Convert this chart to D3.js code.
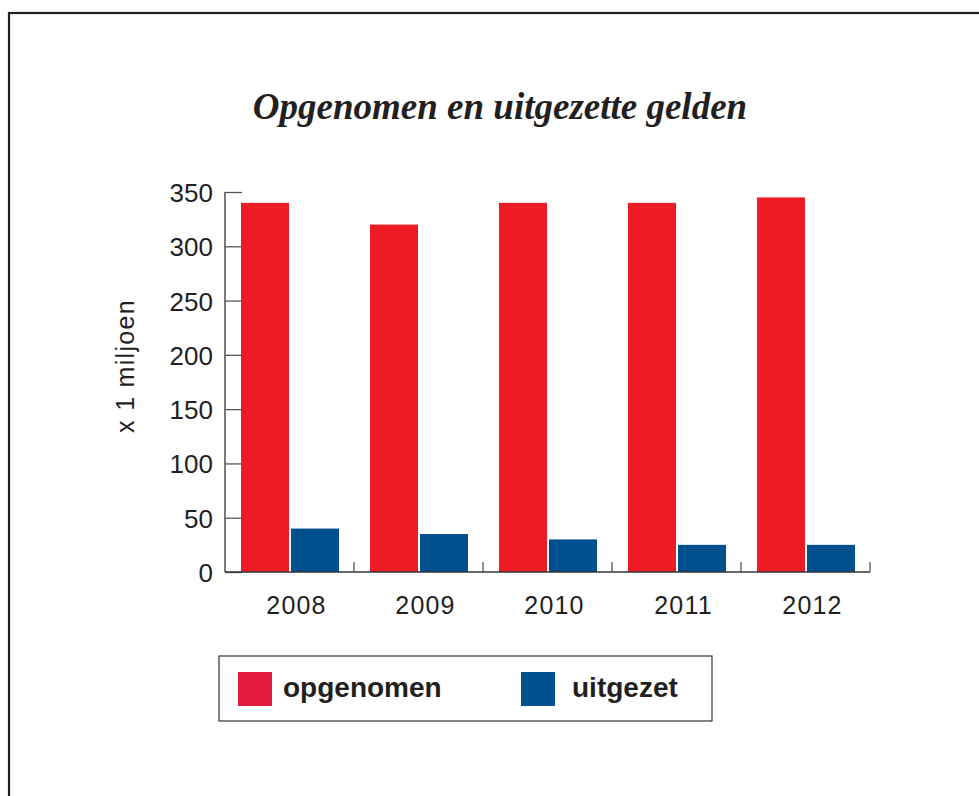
<!DOCTYPE html>
<html>
<head>
<meta charset="utf-8">
<script src="https://cdn.jsdelivr.net/npm/d3@7"></script>
<style>
  body { margin: 0; background: #fff; }
  svg text { fill: #231f20; }
</style>
</head>
<body>
<div id="chart"></div>
<script>
// data
var years = ["2008", "2009", "2010", "2011", "2012"];
var opgenomen = [340, 320, 340, 340, 345];
var uitgezet = [40, 35, 30, 25, 25];
var yTicks = [0, 50, 100, 150, 200, 250, 300, 350];
var seriesNames = ["opgenomen", "uitgezet"];

var W = 979, H = 796;
var barRed = "#ed1c24", barBlue = "#00508e";
var legRed = "#e31940";

var svg = d3.select("#chart").append("svg")
	.attr("width", W)
	.attr("height", H);

// outer frame, runs off right and bottom
svg.append("rect")
	.attr("x", 9).attr("y", 13)
	.attr("width", 1000).attr("height", 900)
	.attr("fill", "none")
	.attr("stroke", "#231f20")
	.attr("stroke-width", 2.2);

// title
svg.append("text")
	.attr("x", 500).attr("y", 119)
	.attr("text-anchor", "middle")
	.style("font-family", "'Liberation Serif', 'DejaVu Serif', serif")
	.style("font-weight", "bold")
	.style("font-style", "italic")
	.style("font-size", "37px")
	.text("Opgenomen en uitgezette gelden");

// scales
var x = d3.scaleBand()
	.domain(years)
	.range([225, 870])
	.paddingInner(0).paddingOuter(0);

var y = d3.scaleLinear()
	.domain([0, 350])
	.range([572, 192]);

var inner = d3.scaleBand()
	.domain(seriesNames)
	.range([16, x.bandwidth() - 15])
	.paddingInner(0.04);

var g = svg.append("g");

// bars
var groups = g.selectAll("g.year")
	.data(years)
	.enter().append("g")
	.attr("class", "year")
	.attr("transform", function(d) { return "translate(" + x(d) + ",0)"; });

groups.append("rect")
	.attr("x", inner("opgenomen"))
	.attr("width", inner.bandwidth())
	.attr("y", function(d, i) { return y(opgenomen[i]); })
	.attr("height", function(d, i) { return y(0) - y(opgenomen[i]); })
	.attr("fill", barRed);

groups.append("rect")
	.attr("x", inner("uitgezet"))
	.attr("width", inner.bandwidth())
	.attr("y", function(d, i) { return y(uitgezet[i]); })
	.attr("height", function(d, i) { return y(0) - y(uitgezet[i]); })
	.attr("fill", barBlue);

// y axis (ticks point inward)
var yAxis = g.append("g")
	.attr("transform", "translate(225,0)")
	.call(d3.axisRight(y).tickValues(yTicks).tickSize(17).tickFormat(""));
yAxis.select(".domain").attr("stroke", "#333").attr("stroke-width", 1.3).attr("d", "M0,192V572");
yAxis.selectAll(".tick line").attr("stroke", "#555").attr("stroke-width", 1.3);

g.selectAll("text.ylab")
	.data(yTicks)
	.enter().append("text")
	.attr("class", "ylab")
	.attr("x", 213)
	.attr("y", function(d) { return y(d) + 10; })
	.attr("text-anchor", "end")
	.style("font-family", "'Liberation Sans', Arial, sans-serif")
	.style("font-size", "26px")
	.text(function(d) { return d; });

// x axis baseline with separators
g.append("line")
	.attr("x1", 225).attr("x2", 870)
	.attr("y1", y(0)).attr("y2", y(0))
	.attr("stroke", "#333").attr("stroke-width", 1.3);

var seps = years.map(function(d) { return x(d) + x.bandwidth(); });
g.selectAll("line.sep")
	.data(seps)
	.enter().append("line")
	.attr("class", "sep")
	.attr("x1", function(d) { return d; }).attr("x2", function(d) { return d; })
	.attr("y1", y(0) - 10).attr("y2", y(0))
	.attr("stroke", "#555").attr("stroke-width", 1.3);

g.selectAll("text.xlab")
	.data(years)
	.enter().append("text")
	.attr("class", "xlab")
	.attr("x", function(d) { return x(d) + x.bandwidth() / 2 + 7; })
	.attr("y", 614)
	.attr("text-anchor", "middle")
	.style("font-family", "'Liberation Sans', Arial, sans-serif")
	.style("font-size", "25px")
	.style("letter-spacing", "1.2px")
	.text(function(d) { return d; });

// y title
svg.append("text")
	.attr("transform", "translate(134,366) rotate(-90)")
	.attr("text-anchor", "middle")
	.style("font-family", "'Liberation Sans', Arial, sans-serif")
	.style("font-size", "25px")
	.style("letter-spacing", "1.3px")
	.text("x 1 miljoen");

// legend
var leg = svg.append("g");
leg.append("rect")
	.attr("x", 219).attr("y", 656)
	.attr("width", 493).attr("height", 65)
	.attr("fill", "none")
	.attr("stroke", "#333").attr("stroke-width", 1.2);

var legItems = leg.selectAll("g.item")
	.data(seriesNames)
	.enter().append("g")
	.attr("class", "item")
	.attr("transform", function(d, i) { return "translate(" + (238 + i * 283) + ",672)"; });

legItems.append("rect")
	.attr("width", 34).attr("height", 34)
	.attr("fill", function(d, i) { return i === 0 ? legRed : barBlue; });

legItems.append("text")
	.attr("x", function(d, i) { return i === 0 ? 45 : 51; })
	.attr("y", 25)
	.style("font-family", "'Liberation Sans', Arial, sans-serif")
	.style("font-weight", "bold")
	.style("font-size", "28px")
	.text(function(d) { return d; });
</script>
</body>
</html>
